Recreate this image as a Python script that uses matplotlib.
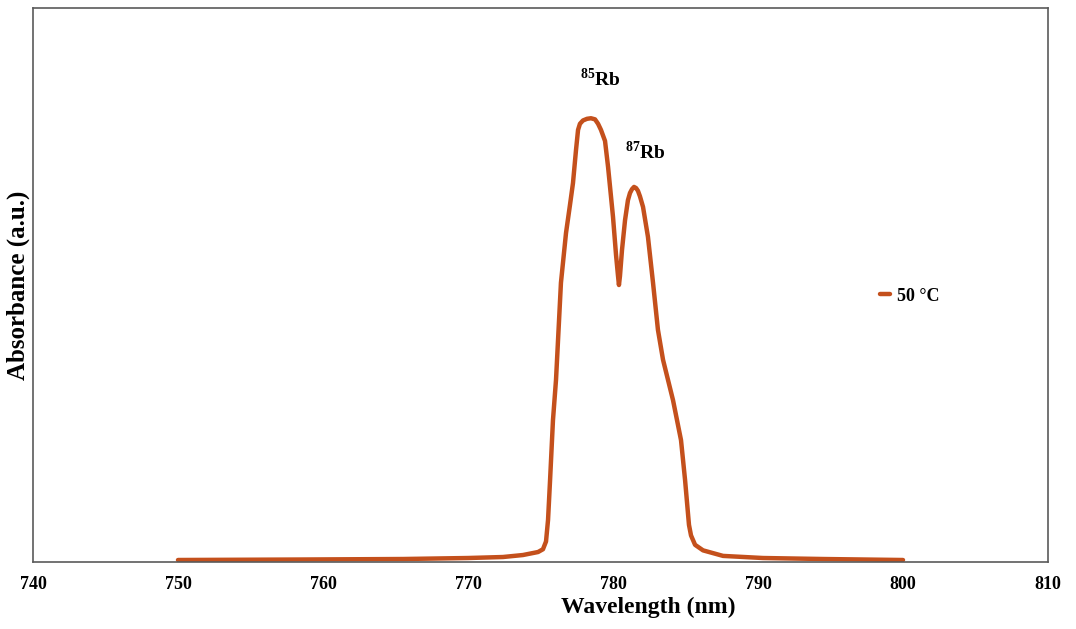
import matplotlib
matplotlib.use("Agg")
import matplotlib.pyplot as plt

plt.rcParams["mathtext.fontset"] = "custom"
plt.rcParams["mathtext.rm"] = "Liberation Serif:bold"
plt.rcParams["mathtext.bf"] = "Liberation Serif:bold"

wavelength = [750.0, 758.62, 765.52, 770.0, 772.41, 773.79, 774.83, 775.17, 775.38, 775.52, 775.66,
              775.86, 776.07, 776.28, 776.41, 776.76, 777.03, 777.24, 777.45, 777.59, 777.72, 777.93,
              778.21, 778.48, 778.76, 778.97, 779.17, 779.45, 779.66, 780.0, 780.21, 780.34, 780.41,
              780.48, 780.62, 780.83, 781.03, 781.17, 781.31, 781.45, 781.59, 781.72, 781.86,
              782.07, 782.41, 782.76, 783.10, 783.45, 784.14, 784.69, 784.97, 785.24, 785.38,
              785.66, 786.21, 786.90, 787.59, 790.34, 794.48, 800.0]
absorbance = [0.0036, 0.0045, 0.0054, 0.0072, 0.009, 0.0126, 0.018, 0.023, 0.037, 0.076, 0.148,
              0.256, 0.329, 0.437, 0.504, 0.594, 0.644, 0.684, 0.744, 0.780, 0.791, 0.797,
              0.800, 0.801, 0.799, 0.791, 0.780, 0.760, 0.713, 0.623, 0.554, 0.518, 0.500,
              0.516, 0.563, 0.617, 0.653, 0.666, 0.673, 0.677, 0.675, 0.670, 0.660,
              0.641, 0.587, 0.504, 0.419, 0.365, 0.292, 0.220, 0.148, 0.067, 0.048,
              0.031, 0.021, 0.016, 0.011, 0.0072, 0.0054, 0.0036]
xticks = [740, 750, 760, 770, 780, 790, 800, 810]
series_label = "50 °C"

serif = ["Liberation Serif", "DejaVu Serif"]

fig = plt.figure(figsize=(10.76, 6.29), dpi=100)
ax = fig.add_axes([33/1076, 1 - 562/629, (1048-33)/1076, (562-8)/629])
ax.plot(wavelength, absorbance, color="#C4501C", lw=3.2, solid_capstyle="round",
        solid_joinstyle="round", label=series_label)
ax.set_xlim(740, 810)
ax.set_ylim(0, 1.0)
ax.set_yticks([])
ax.set_xticks(xticks)
ax.set_xticklabels([str(t) for t in xticks], family=serif, fontweight="bold", fontsize=13)
ax.tick_params(axis="x", length=0, pad=10)
for s in ax.spines.values():
    s.set_color("#5a5a5a")
    s.set_linewidth(1.2)

ax.set_xlabel("Wavelength (nm)", family=serif, fontweight="bold", fontsize=17)
ax.xaxis.set_label_coords(0.606, -0.062)
ax.set_ylabel("Absorbance (a.u.)", family=serif, fontweight="bold", fontsize=18, labelpad=2)

ax.text(779.1, 0.872, r"$^{85}$Rb", family=serif, fontweight="bold", fontsize=14,
        ha="center", va="center")
ax.text(782.2, 0.74, r"$^{87}$Rb", family=serif, fontweight="bold", fontsize=14,
        ha="center", va="center")

leg = ax.legend(loc="center left", bbox_to_anchor=(0.818, 0.48), frameon=False,
                prop={"family": serif, "weight": "bold", "size": 13},
                handlelength=0.6, handletextpad=0.35)

fig.savefig("out.png", dpi=100, facecolor="white")
